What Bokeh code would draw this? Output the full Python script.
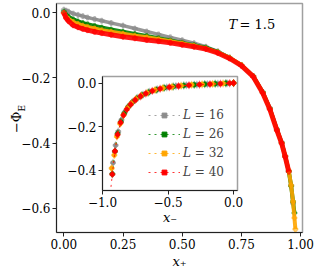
import math
from bokeh.plotting import figure
from bokeh.models import (Range1d, FixedTicker, CustomJSTickFormatter, Label,
                          Legend, LegendItem, Div)
from bokeh.layouts import column
from bokeh.embed import file_html
from bokeh.resources import INLINE

# ---------------- data ----------------
L_labels = ["𝐿 = 16", "𝐿 = 26", "𝐿 = 32", "𝐿 = 40"]
colors = ["#8c8c8c", "#008000", "#ffa500", "#ff0000"]

# main panel: x_+ vs -Phi_E
xp_16 = [0.0, 0.01, 0.02, 0.04, 0.06, 0.08, 0.10, 0.13, 0.16, 0.20, 0.25, 0.30, 0.35, 0.40, 0.45,
         0.50, 0.55, 0.60, 0.65, 0.70, 0.75, 0.80, 0.84, 0.87, 0.90, 0.92, 0.935, 0.95, 0.96, 0.968]
yp_16 = [0.010, 0.007, 0.004, -0.002, -0.006, -0.010, -0.014, -0.019, -0.024, -0.031, -0.039, -0.048,
         -0.057, -0.066, -0.075, -0.084, -0.093, -0.104, -0.118, -0.137, -0.160, -0.194, -0.243,
         -0.292, -0.358, -0.398, -0.440, -0.486, -0.530, -0.585]
xp_26 = [0.0, 0.01, 0.02, 0.04, 0.06, 0.08, 0.10, 0.13, 0.16, 0.20, 0.25, 0.30, 0.35, 0.40, 0.45,
         0.50, 0.55, 0.60, 0.65, 0.70, 0.75, 0.80, 0.84, 0.87, 0.90, 0.92, 0.935, 0.95, 0.96, 0.968,
         0.974]
yp_26 = [0.004, -0.006, -0.012, -0.020, -0.026, -0.031, -0.035, -0.040, -0.045, -0.051, -0.058,
         -0.065, -0.071, -0.078, -0.085, -0.092, -0.099, -0.107, -0.120, -0.138, -0.161, -0.195,
         -0.244, -0.294, -0.359, -0.399, -0.441, -0.487, -0.532, -0.580, -0.615]
xp_32 = [0.0, 0.01, 0.02, 0.04, 0.06, 0.08, 0.10, 0.13, 0.16, 0.20, 0.25, 0.30, 0.35, 0.40, 0.45,
         0.50, 0.55, 0.60, 0.65, 0.70, 0.75, 0.80, 0.84, 0.87, 0.90, 0.92, 0.935, 0.95, 0.96, 0.968,
         0.974, 0.978]
yp_32 = [0.0, -0.012, -0.019, -0.028, -0.034, -0.039, -0.043, -0.048, -0.053, -0.058, -0.064,
         -0.070, -0.075, -0.081, -0.087, -0.094, -0.101, -0.109, -0.121, -0.138, -0.160, -0.195,
         -0.245, -0.295, -0.360, -0.400, -0.440, -0.485, -0.530, -0.580, -0.630, -0.665]
xp_40 = [0.0, 0.01, 0.02, 0.04, 0.06, 0.08, 0.10, 0.13, 0.16, 0.20, 0.25, 0.30, 0.35, 0.40, 0.45,
         0.50, 0.55, 0.60, 0.65, 0.70, 0.75, 0.80, 0.84, 0.87, 0.90, 0.92, 0.935, 0.95]
yp_40 = [0.0, -0.016, -0.025, -0.038, -0.044, -0.049, -0.053, -0.058, -0.062, -0.067, -0.073,
         -0.078, -0.083, -0.087, -0.092, -0.098, -0.104, -0.111, -0.123, -0.140, -0.162, -0.196,
         -0.246, -0.296, -0.361, -0.401, -0.442, -0.488]

# inset: x_- vs -Phi_E
xm_16 = [-0.92, -0.90, -0.88, -0.855, -0.83, -0.80, -0.77, -0.73, -0.69, -0.64, -0.58, -0.51,
         -0.44, -0.36, -0.28, -0.20, -0.12, -0.05, 0.0]
ym_16 = [-0.365, -0.285, -0.222, -0.168, -0.133, -0.106, -0.086, -0.067, -0.053, -0.040, -0.029,
         -0.020, -0.014, -0.010, -0.007, -0.005, -0.003, -0.001, 0.0]
xm_26 = [-0.925, -0.905, -0.885, -0.86, -0.835, -0.805, -0.775, -0.74, -0.70, -0.65, -0.59, -0.53,
         -0.46, -0.38, -0.30, -0.22, -0.14, -0.06, 0.0]
ym_26 = [-0.416, -0.313, -0.232, -0.178, -0.140, -0.110, -0.090, -0.071, -0.056, -0.043, -0.031,
         -0.022, -0.016, -0.011, -0.008, -0.005, -0.003, -0.001, 0.0]
xm_32 = [-0.93, -0.91, -0.89, -0.865, -0.84, -0.81, -0.78, -0.745, -0.705, -0.66, -0.60, -0.54,
         -0.47, -0.40, -0.32, -0.24, -0.16, -0.08, 0.0]
ym_32 = [-0.390, -0.330, -0.245, -0.186, -0.147, -0.115, -0.093, -0.073, -0.058, -0.045, -0.032,
         -0.023, -0.017, -0.012, -0.008, -0.006, -0.004, -0.002, 0.0]
xm_40 = [-0.945, -0.925, -0.905, -0.885, -0.862, -0.84, -0.815, -0.785, -0.75, -0.71, -0.67, -0.62,
         -0.56, -0.49, -0.42, -0.34, -0.26, -0.18, -0.10, -0.03, 0.0]
ym_40 = [-0.530, -0.418, -0.312, -0.236, -0.181, -0.147, -0.121, -0.098, -0.078, -0.061, -0.048,
         -0.036, -0.026, -0.019, -0.014, -0.010, -0.007, -0.005, -0.003, -0.001, 0.0]

main_ticks_x = [0.0, 0.25, 0.5, 0.75, 1.0]
main_ticks_y = [0.0, -0.2, -0.4, -0.6]
inset_ticks_x = [-1.0, -0.5, 0.0]
inset_ticks_y = [0.0, -0.2, -0.4]

FONT = "DejaVu Serif"
FS = "12px"
SHIFT = 24   # the whole layout box starts 24px left of the page edge
BORDER_L = 80  # same left border for both plots (Bokeh aligns them inside a column)
BORDER_T = 3
BORDER_B = 44
BORDER_R = 14

def fmt(n):
    return CustomJSTickFormatter(code=f"return tick.toFixed({n}).replace('-', '\\u2212');")

def style_axes(fig):
    for ax in (fig.xaxis[0], fig.yaxis[0]):
        ax.major_label_text_font = FONT
        ax.major_label_text_font_size = FS
        ax.major_label_text_color = "black"
        ax.axis_label_text_font = FONT
        ax.axis_label_text_font_size = "13px"
        ax.axis_label_text_font_style = "italic"
        ax.axis_label_text_color = "black"
        ax.major_tick_out = 4
        ax.major_tick_in = 0
        ax.minor_tick_out = 0
        ax.minor_tick_in = 0
        ax.axis_line_color = "#222222"
        ax.major_tick_line_color = "#222222"
        ax.major_label_standoff = 2
        ax.axis_label_standoff = 2
    fig.xgrid.visible = False
    fig.ygrid.visible = False
    fig.outline_line_color = "#a0a0a0"
    fig.outline_line_width = 1.5

# ---------------- main figure ----------------
# frame 246 x 229 starting at page x = 56, y = 3
p = figure(frame_width=246, frame_height=229,
           x_range=Range1d(-0.031, 1.008), y_range=Range1d(-0.675, 0.029),
           output_backend="svg", toolbar_location=None,
           min_border_left=BORDER_L, min_border_right=BORDER_R,
           min_border_top=BORDER_T, min_border_bottom=BORDER_B,
           styles={"position": "absolute", "left": "0px", "top": "0px"})
p.xaxis.ticker = FixedTicker(ticks=main_ticks_x)
p.yaxis.ticker = FixedTicker(ticks=main_ticks_y)
p.xaxis.formatter = fmt(2)
p.yaxis.formatter = fmt(1)
p.xaxis.axis_label = "x₊"
style_axes(p)

mains = [(xp_16, yp_16), (xp_26, yp_26), (xp_32, yp_32), (xp_40, yp_40)]
widths = [3.5, 4, 4, 5]
for (xs, ys), c, w in zip(mains, colors, widths):
    p.line(xs, ys, line_color=c, line_width=w, line_alpha=0.9)
    p.scatter(xs, ys, marker="plus", size=5, color=c, alpha=0.5)

p.add_layout(Label(x=172, y=208, x_units="screen", y_units="screen", text="T",
                   text_font=FONT, text_font_size="13px", text_font_style="italic",
                   text_baseline="middle", text_color="black"))
p.add_layout(Label(x=183, y=208, x_units="screen", y_units="screen", text="= 1.5",
                   text_font=FONT, text_font_size="13px", text_baseline="middle",
                   text_color="black"))

# y-axis title with a subscript (rotated HTML text)
ytitle = Div(text="−Φ<sub style='font-size:9px'>E</sub>", width=44, height=20,
             styles={"position": "absolute", "left": f"{SHIFT - 10}px", "top": "104px",
                     "transform": "rotate(-90deg)", "transform-origin": "50% 50%",
                     "font-family": FONT, "font-size": "13px", "color": "black",
                     "text-align": "center", "line-height": "20px"})

# ---------------- inset ----------------
# inset frame starts at page x = 22 + 80 = 102, y = 73 + 3 = 76
ins = figure(frame_width=135, frame_height=114,
             x_range=Range1d(-1.0, 0.03), y_range=Range1d(-0.492, 0.03),
             output_backend="svg", toolbar_location=None,
             min_border_left=BORDER_L, min_border_right=BORDER_R,
             min_border_top=BORDER_T, min_border_bottom=BORDER_B,
             border_fill_color=None, background_fill_color="white",
             styles={"position": "absolute", "left": f"{SHIFT + 22}px", "top": "73px"})
ins.xaxis.ticker = FixedTicker(ticks=inset_ticks_x)
ins.yaxis.ticker = FixedTicker(ticks=inset_ticks_y)
ins.xaxis.formatter = fmt(1)
ins.yaxis.formatter = fmt(1)
ins.xaxis.axis_label = "x₋"
style_axes(ins)
ins.xaxis.axis_label_standoff = 0

insets = [(xm_16, ym_16), (xm_26, ym_26), (xm_32, ym_32), (xm_40, ym_40)]
items = []
for (xs, ys), c, lab in zip(insets, colors, L_labels):
    r1 = ins.line(xs, ys, line_color=c, line_width=1, line_dash="dotted", line_alpha=0.8)
    r2 = ins.scatter(xs, ys, marker="dash", angle=math.pi / 2, size=8, color=c, alpha=0.5)
    r3 = ins.scatter(xs, ys, marker="plus", size=5, color=c, alpha=0.6)
    r4 = ins.scatter(xs, ys, marker="square", size=3, color=c)
    items.append(LegendItem(label=lab, renderers=[r1, r2, r4]))

leg = Legend(items=items, location=(46, 9), padding=0, spacing=0, margin=0,
             glyph_height=12, glyph_width=32, label_height=19, label_standoff=3,
             label_text_font=FONT, label_text_font_size="12px",
             background_fill_alpha=0, border_line_alpha=0)
ins.add_layout(leg)

root = column(p, ins, ytitle, width=316 + SHIFT, height=276,
              styles={"position": "absolute", "left": f"-{SHIFT}px", "top": "0px"})

open("out.html", "w").write(file_html(root, INLINE))
